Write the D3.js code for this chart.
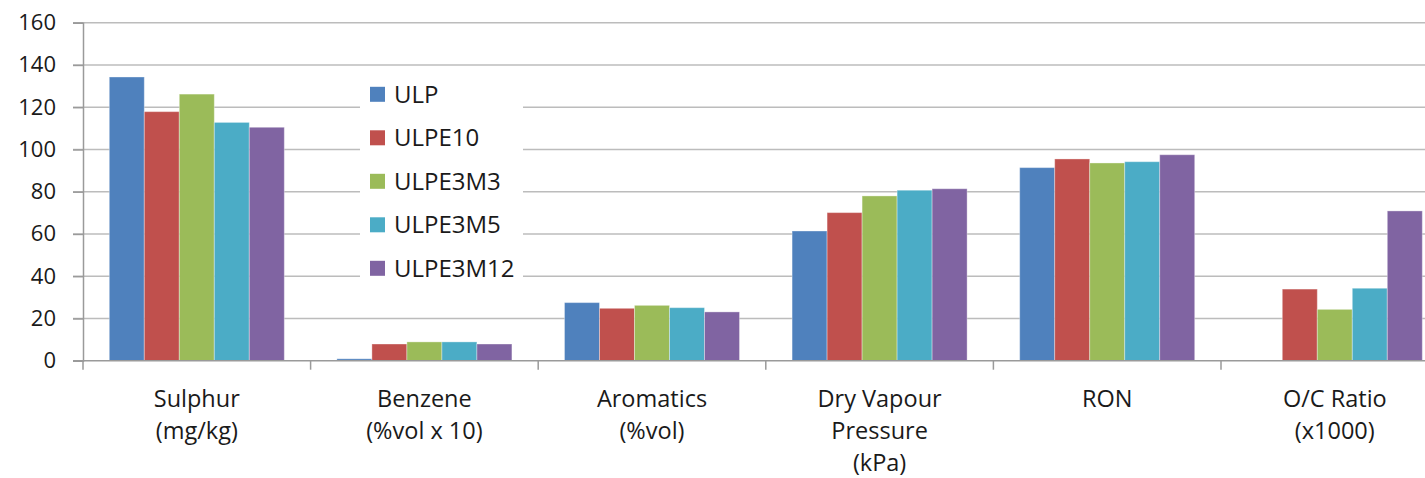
<!DOCTYPE html>
<html>
<head>
<meta charset="utf-8">
<script src="https://cdn.jsdelivr.net/npm/d3@7"></script>
<style>
  html, body { margin: 0; padding: 0; background: #fff; }
  svg { display: block; }
  text { font-family: "Open Sans", "Noto Sans", sans-serif; fill: #1a1a1a; }
</style>
</head>
<body>
<svg id="chart" width="1425" height="478"></svg>
<script>
const categories = [
  ["Sulphur", "(mg/kg)"],
  ["Benzene", "(%vol x 10)"],
  ["Aromatics", "(%vol)"],
  ["Dry Vapour", "Pressure", "(kPa)"],
  ["RON"],
  ["O/C Ratio", "(x1000)"]
];
const seriesNames = ["ULP", "ULPE10", "ULPE3M3", "ULPE3M5", "ULPE3M12"];
const seriesColors = ["#4F81BD", "#C0504D", "#9BBB59", "#4BACC6", "#8064A2"];
const ULP      = [134.3, 0.9, 27.5, 61.4, 91.4, 0];
const ULPE10   = [117.9, 7.9, 24.8, 70.1, 95.5, 33.9];
const ULPE3M3  = [126.2, 8.9, 26.2, 78.0, 93.6, 24.3];
const ULPE3M5  = [112.8, 8.9, 25.1, 80.7, 94.2, 34.3];
const ULPE3M12 = [110.5, 7.9, 23.1, 81.4, 97.5, 70.9];
const seriesValues = [ULP, ULPE10, ULPE3M3, ULPE3M5, ULPE3M12];
const yTicks = [0, 20, 40, 60, 80, 100, 120, 140, 160];

(function () {
const svg = d3.select("#chart");
const pLeft = 83, pRight = 1448.6, pTop = 22.7, pBottom = 360.7;

const x0 = d3.scaleBand().domain(d3.range(categories.length))
  .range([pLeft, pRight]).paddingInner(0.231).paddingOuter(0.1155);
const x1 = d3.scaleBand().domain(d3.range(seriesNames.length))
  .range([0, x0.bandwidth()]).padding(0);
const y = d3.scaleLinear().domain([0, 160]).range([pBottom, pTop]);

// gridlines
svg.append("g").selectAll("line").data(yTicks.filter(d => d > 0)).join("line")
  .attr("x1", pLeft - 10).attr("x2", 1425)
  .attr("y1", d => y(d)).attr("y2", d => y(d))
  .attr("stroke", "#bcbcbc").attr("stroke-width", 1.5);

// y axis
const yAxis = svg.append("g").attr("transform", `translate(${pLeft},0)`)
  .call(d3.axisLeft(y).tickValues(yTicks).tickSize(10).tickPadding(17));
yAxis.select(".domain").attr("stroke", "#9a9a9a").attr("stroke-width", 1.5);
yAxis.selectAll(".tick line").attr("stroke", "#9a9a9a").attr("stroke-width", 1.5);
yAxis.selectAll(".tick text").style("font-size", "22px")
  .style("font-family", '"Open Sans", sans-serif').attr("fill", "#1a1a1a");

// bars
const groups = svg.append("g").selectAll("g").data(categories).join("g")
  .attr("transform", (d, i) => `translate(${x0(i)},0)`);
groups.selectAll("rect")
  .data((d, i) => seriesValues.map((s, k) => ({k, v: s[i]})).filter(e => e.v > 0))
  .join("rect")
  .attr("x", d => x1(d.k))
  .attr("width", x1.bandwidth())
  .attr("y", d => y(d.v))
  .attr("height", d => y(0) - y(d.v))
  .attr("fill", d => seriesColors[d.k])
  .attr("stroke", "rgba(255,255,255,0.35)")
  .attr("stroke-width", 1);

// x axis baseline and ticks
svg.append("line").attr("x1", pLeft - 10).attr("x2", 1425)
  .attr("y1", pBottom).attr("y2", pBottom)
  .attr("stroke", "#9a9a9a").attr("stroke-width", 1.5);
const step = x0.step();
svg.append("g").selectAll("line").data(d3.range(categories.length + 1)).join("line")
  .attr("x1", i => pLeft + i * step).attr("x2", i => pLeft + i * step)
  .attr("y1", pBottom).attr("y2", pBottom + 9)
  .attr("stroke", "#9a9a9a").attr("stroke-width", 1.5);

// category labels
const lab = svg.append("g").selectAll("text").data(categories).join("text")
  .attr("text-anchor", "middle")
  .attr("x", (d, i) => x0(i) + x0.bandwidth() / 2)
  .attr("y", 407)
  .style("font-size", "23.5px");
lab.selectAll("tspan").data(d => d).join("tspan")
  .attr("x", function() { return this.parentNode.getAttribute("x"); })
  .attr("dy", (d, j) => j === 0 ? 0 : 32)
  .text(d => d);

// legend
const lg = svg.append("g");
lg.append("rect").attr("x", 360).attr("y", 70).attr("width", 163).attr("height", 218)
  .attr("fill", "#fff");
const items = lg.selectAll("g").data(seriesNames).join("g")
  .attr("transform", (d, i) => `translate(370,${94.3 + i * 43.5})`);
items.append("rect").attr("x", 0).attr("y", -7.5).attr("width", 15).attr("height", 15)
  .attr("fill", (d, i) => seriesColors[i]);
items.append("text").attr("x", 24).attr("y", 0).attr("dy", "0.36em")
  .style("font-size", "24px").text(d => d);
})();
</script>
</body>
</html>
